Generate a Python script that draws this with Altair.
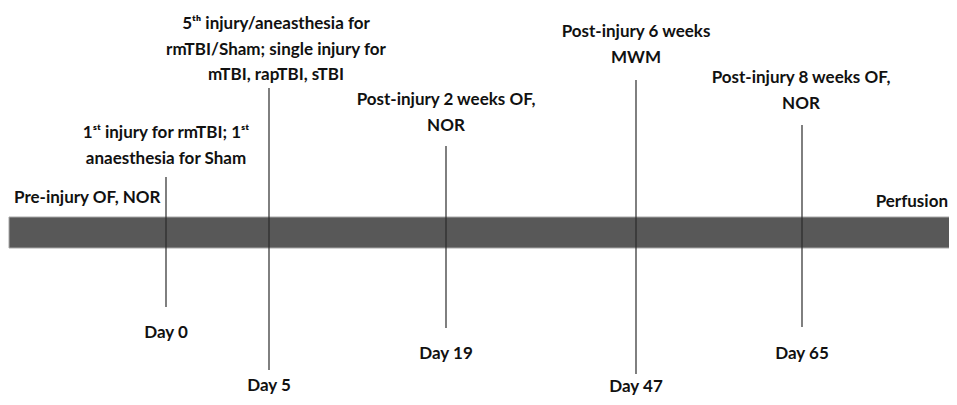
import altair as alt
import pandas as pd

# Schematic timeline positions (timeline units)
event_pos = [166, 269, 446, 636, 802]
day_labels = ["Day 0", "Day 5", "Day 19", "Day 47", "Day 65"]
marker_top = [177, 88, 146, 80, 125]
marker_bottom = [307, 370, 328, 374, 327]
day_label_level = [338, 391, 359, 392, 359]

event_texts = [
    "1ˢᵗ injury for rmTBI; 1ˢᵗ\nanaesthesia for Sham",
    "5ᵗʰ injury/aneasthesia for\nrmTBI/Sham; single injury for\nmTBI, rapTBI, sTBI",
    "Post-injury 2 weeks OF,\nNOR",
    "Post-injury 6 weeks\nMWM",
    "Post-injury 8 weeks OF,\nNOR",
]
event_text_pos = [166, 276, 446, 636, 801]
event_text_level = [138, 29, 105, 37, 83]

side_texts = ["Pre-injury OF, NOR", "Perfusion"]
side_text_pos = [14, 948]
side_text_level = [203, 207]

bar_span = [9, 957]
bar_level = [217, 248]

events = pd.DataFrame({
    "pos": event_pos, "top": marker_top, "bottom": marker_bottom,
    "day": day_labels, "day_level": day_label_level,
})
texts = pd.DataFrame({"text": event_texts, "pos": event_text_pos, "level": event_text_level})
sides = pd.DataFrame({"text": side_texts, "pos": side_text_pos, "level": side_text_level})
bar = pd.DataFrame({"x0": [bar_span[0]], "x1": [bar_span[1]], "y0": [bar_level[0]], "y1": [bar_level[1]]})

xs = alt.Scale(domain=[8, 949], nice=False, zero=False)
ys = alt.Scale(domain=[8, 397], nice=False, zero=False, reverse=True)

FONT = "Lato"
FS = 17
INK = "#111111"

bar_layer = alt.Chart(bar).mark_rect(fill="#585858", stroke="#a8a8a8", strokeWidth=1, clip=True).encode(
    x=alt.X("x0:Q", scale=xs, axis=None), x2="x1:Q",
    y=alt.Y("y0:Q", scale=ys, axis=None), y2="y1:Q",
)

rules = alt.Chart(events).mark_rule(color="#2a2a2a", strokeWidth=1.2).encode(
    x=alt.X("pos:Q", scale=xs, axis=None),
    y=alt.Y("top:Q", scale=ys, axis=None), y2="bottom:Q",
)

day_text = alt.Chart(events).mark_text(
    font=FONT, fontSize=FS, fontWeight="bold", align="center", baseline="alphabetic", color=INK
).encode(
    x=alt.X("pos:Q", scale=xs, axis=None),
    y=alt.Y("day_level:Q", scale=ys, axis=None),
    text="day:N",
)

event_text = alt.Chart(texts).mark_text(
    font=FONT, fontSize=FS, fontWeight="bold", align="center", baseline="alphabetic",
    lineBreak="\n", lineHeight=25.5, color=INK
).encode(
    x=alt.X("pos:Q", scale=xs, axis=None),
    y=alt.Y("level:Q", scale=ys, axis=None),
    text="text:N",
)

side_left = alt.Chart(sides.iloc[[0]]).mark_text(
    font=FONT, fontSize=FS, fontWeight="bold", align="left", baseline="alphabetic", color=INK
).encode(
    x=alt.X("pos:Q", scale=xs, axis=None),
    y=alt.Y("level:Q", scale=ys, axis=None),
    text="text:N",
)
side_right = alt.Chart(sides.iloc[[1]]).mark_text(
    font=FONT, fontSize=FS, fontWeight="bold", align="right", baseline="alphabetic", color=INK
).encode(
    x=alt.X("pos:Q", scale=xs, axis=None),
    y=alt.Y("level:Q", scale=ys, axis=None),
    text="text:N",
)

chart = alt.layer(bar_layer, rules, day_text, event_text, side_left, side_right).properties(
    width=941, height=389, padding=0,
    autosize=alt.AutoSizeParams(type="none"),
    background="white",
).configure_view(stroke=None)

chart.save("out.html", embed_options={"renderer": "svg", "actions": False})
